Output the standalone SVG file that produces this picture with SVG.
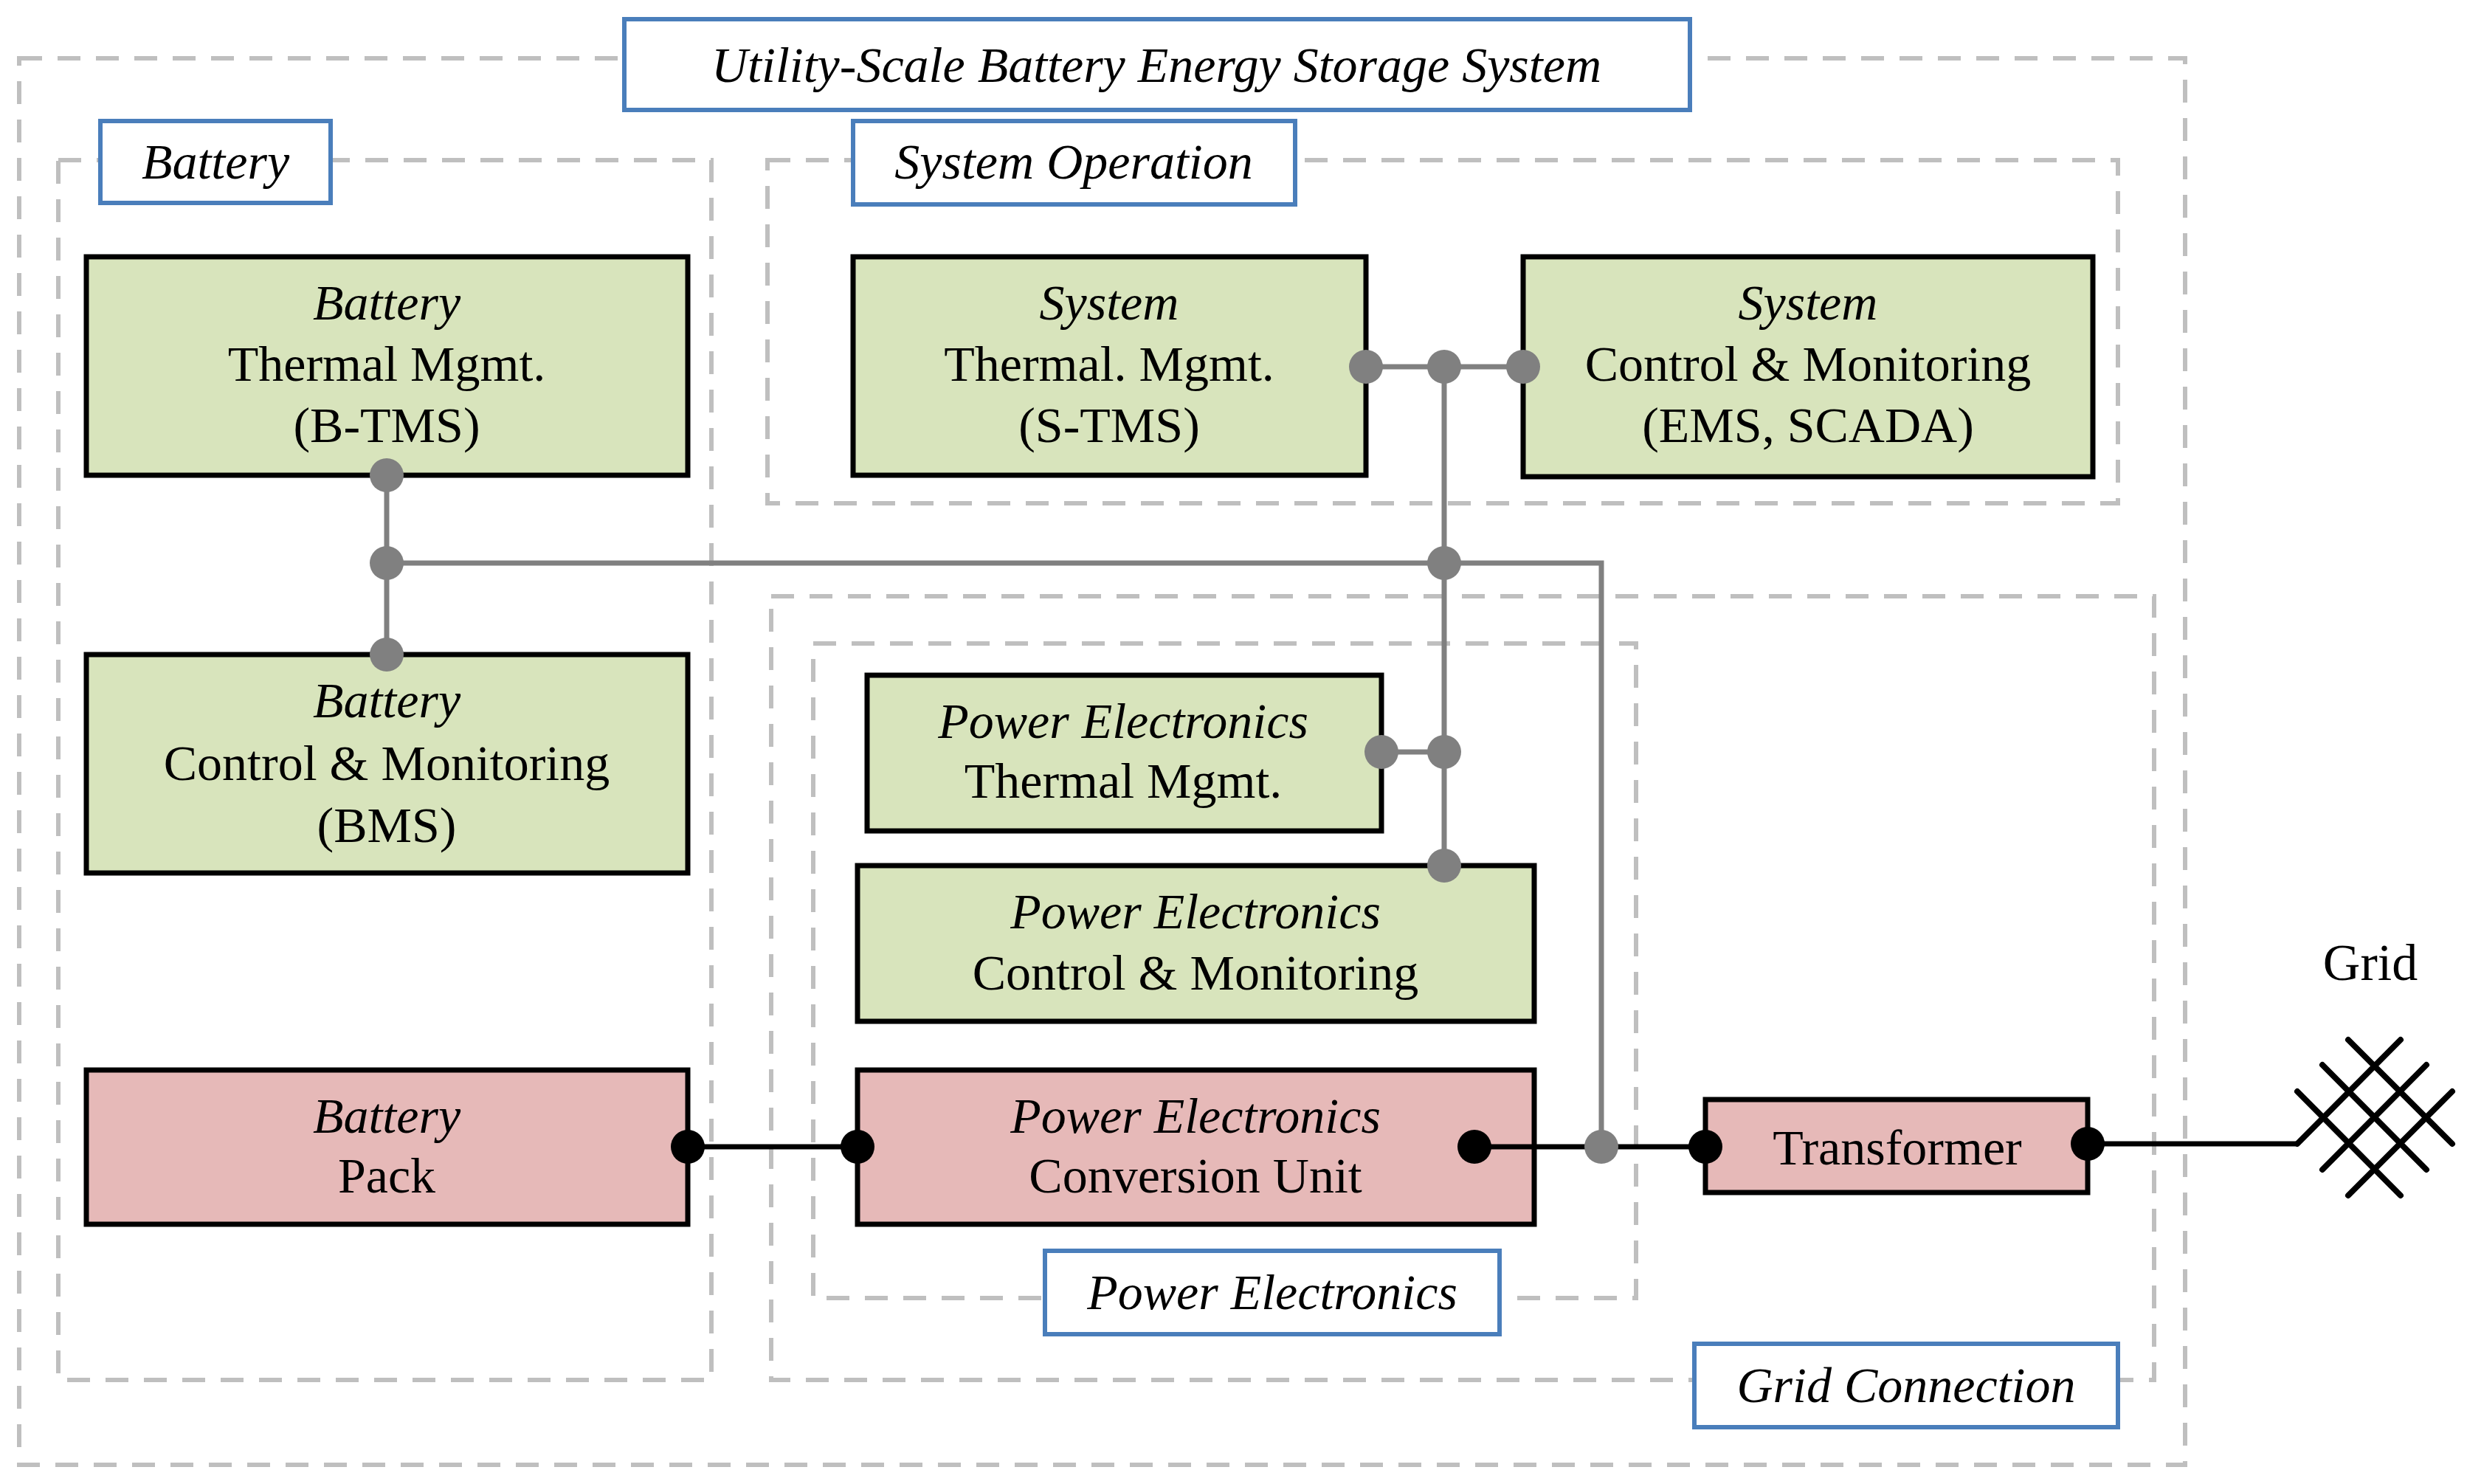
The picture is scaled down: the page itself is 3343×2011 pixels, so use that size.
<svg xmlns="http://www.w3.org/2000/svg" width="3343" height="2011" viewBox="0 0 3343 2011">
<style>
.grp{fill:none;stroke:#bfbfbf;stroke-width:6;stroke-dasharray:31 21}
.lbl{fill:#fff;stroke:#4a7ebb;stroke-width:6}
.g{fill:#d8e4bc;stroke:#000;stroke-width:7}
.p{fill:#e6b9b8;stroke:#000;stroke-width:7}
text{font-family:"Liberation Serif","DejaVu Serif",serif;font-size:68px;text-anchor:middle;fill:#000}
.i{font-style:italic}
.gc{stroke:#808080;stroke-width:7;fill:none}
.bc{stroke:#000;stroke-width:7;fill:none}
.gd{fill:#808080}
.bd{fill:#000}
</style>
<rect width="3343" height="2011" fill="#fff"/>
<g id="groups">
<rect class="grp" x="26" y="79" width="2935" height="1906"/>
<rect class="grp" x="79" y="217" width="885" height="1653"/>
<rect class="grp" x="1040" y="217" width="1830" height="465"/>
<rect class="grp" x="1045" y="808" width="1874" height="1062"/>
<rect class="grp" x="1102" y="872" width="1115" height="887"/>
</g>
<g id="labels">
<rect class="lbl" x="846" y="26" width="1444" height="123"/>
<text class="i" x="1567" y="111">Utility-Scale Battery Energy Storage System</text>
<rect class="lbl" x="136" y="164" width="312" height="111"/>
<text class="i" x="292" y="242">Battery</text>
<rect class="lbl" x="1156" y="164" width="599" height="113"/>
<text class="i" x="1455" y="242">System Operation</text>
<rect class="lbl" x="1416" y="1695" width="616" height="113"/>
<text class="i" x="1724" y="1774">Power Electronics</text>
<rect class="lbl" x="2296" y="1821" width="574" height="113"/>
<text class="i" x="2583" y="1900">Grid Connection</text>
</g>
<g id="btms"><rect class="g" x="117" y="348" width="815" height="296"/>
<text class="i" x="524" y="433">Battery</text><text x="524" y="516">Thermal Mgmt.</text><text x="524" y="599">(B-TMS)</text></g>
<g id="bms"><rect class="g" x="117" y="887" width="815" height="296"/>
<text class="i" x="524" y="972">Battery</text><text x="524" y="1057">Control &amp; Monitoring</text><text x="524" y="1141">(BMS)</text></g>
<g id="pack"><rect class="p" x="117" y="1450" width="815" height="209"/>
<text class="i" x="524" y="1535">Battery</text><text x="524" y="1616">Pack</text></g>
<g id="stms"><rect class="g" x="1156" y="348" width="695" height="296"/>
<text class="i" x="1503" y="433">System</text><text x="1503" y="516">Thermal. Mgmt.</text><text x="1503" y="599">(S-TMS)</text></g>
<g id="scada"><rect class="g" x="2064" y="348" width="772" height="298"/>
<text class="i" x="2450" y="433">System</text><text x="2450" y="516">Control &amp; Monitoring</text><text x="2450" y="599">(EMS, SCADA)</text></g>
<g id="petm"><rect class="g" x="1175" y="915" width="697" height="211"/>
<text class="i" x="1522" y="1000">Power Electronics</text><text x="1522" y="1081">Thermal Mgmt.</text></g>
<g id="pecm"><rect class="g" x="1162" y="1173" width="917" height="211"/>
<text class="i" x="1620" y="1258">Power Electronics</text><text x="1620" y="1341">Control &amp; Monitoring</text></g>
<g id="pecu"><rect class="p" x="1162" y="1450" width="917" height="209"/>
<text class="i" x="1620" y="1535">Power Electronics</text><text x="1620" y="1616">Conversion Unit</text></g>
<g id="transformer"><rect class="p" x="2311" y="1490" width="518" height="126"/>
<text x="2571" y="1578">Transformer</text></g>
<g id="grid"><text x="3212" y="1328" style="font-size:70px">Grid</text>
<g stroke="#000" stroke-width="8" stroke-linecap="round" fill="none">
<path d="M3113 1550L3253 1409M3288 1443L3147 1585M3323 1479L3182 1620M3182 1409L3323 1550M3147 1443L3288 1585M3113 1479L3253 1620"/>
</g></g>
<g id="connectors">
<path class="gc" d="M524 644V887M524 763H2170V1554M1957 497V1173M1851 497H2064M1872 1019H1957"/>
<path class="bc" d="M932 1554H1162M1998 1554H2311M2829 1550H3113"/>
<g class="gd">
<circle cx="524" cy="644" r="23"/><circle cx="524" cy="763" r="23"/><circle cx="524" cy="887" r="23"/>
<circle cx="1851" cy="497" r="23"/><circle cx="1957" cy="497" r="23"/><circle cx="2064" cy="497" r="23"/>
<circle cx="1957" cy="763" r="23"/><circle cx="1872" cy="1019" r="23"/><circle cx="1957" cy="1019" r="23"/>
<circle cx="1957" cy="1173" r="23"/><circle cx="2170" cy="1554" r="23"/>
</g>
<g class="bd">
<circle cx="932" cy="1554" r="23"/><circle cx="1162" cy="1554" r="23"/><circle cx="1998" cy="1554" r="23"/>
<circle cx="2311" cy="1554" r="23"/><circle cx="2829" cy="1550" r="23"/>
</g>
</g>
</svg>
